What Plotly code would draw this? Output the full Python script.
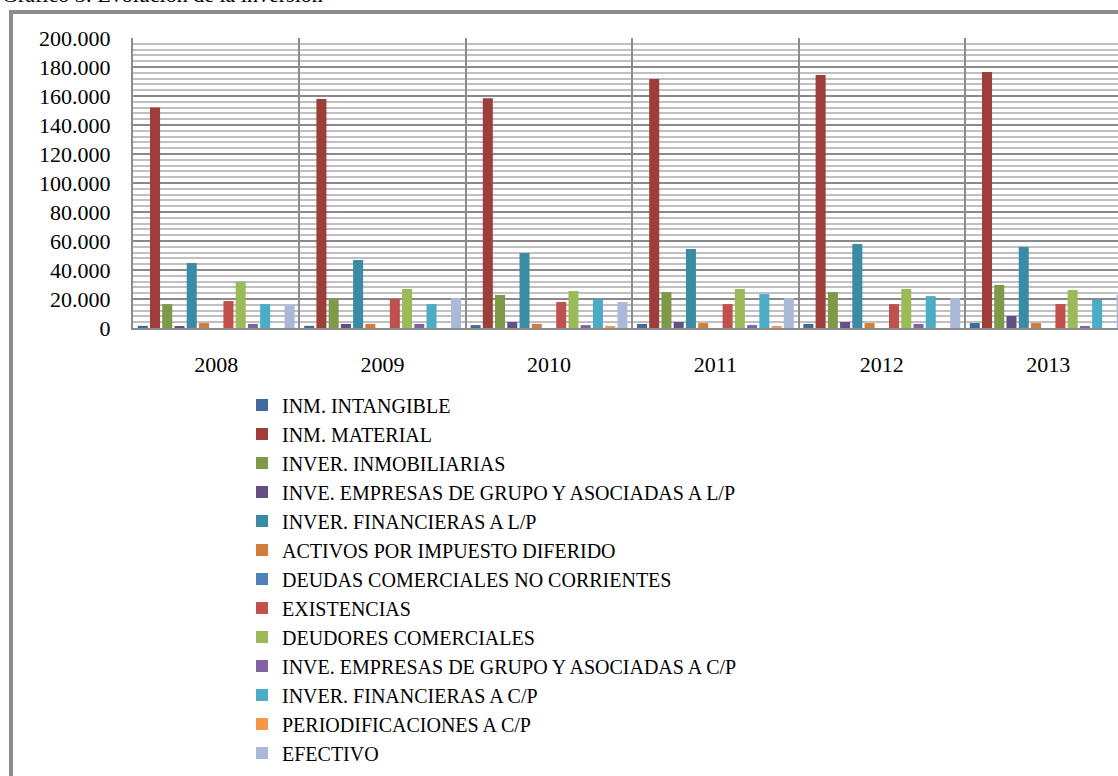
"""Gráfico 3: Evolución de la inversión — grouped bars, Excel style."""
import plotly.graph_objects as go

# ── data ─────────────────────────────────────────────────────────────────────
YEARS = ["2008", "2009", "2010", "2011", "2012", "2013"]

INM_INTANGIBLE = [1500, 1500, 2000, 2800, 2800, 3400]
INM_MATERIAL = [152000, 158000, 158500, 171700, 174500, 176600]
INVER_INMOBILIARIAS = [16500, 19800, 22800, 24800, 24800, 29700]
INVE_GRUPO_LP = [1400, 2800, 4100, 4100, 4100, 8300]
INVER_FIN_LP = [44800, 46900, 51700, 54500, 57900, 55900]
ACTIVOS_IMP_DIF = [3400, 2800, 2800, 3400, 3400, 3400]
DEUDAS_COM_NC = [0, 0, 0, 0, 0, 0]
EXISTENCIAS = [18600, 20000, 17900, 16500, 16500, 16500]
DEUDORES_COM = [32000, 26900, 25500, 26900, 26900, 26200]
INVE_GRUPO_CP = [2800, 2800, 2000, 2000, 2800, 1400]
INVER_FIN_CP = [16500, 16500, 19800, 23400, 22000, 19300]
PERIODIFICACIONES = [0, 0, 700, 700, 0, 0]
EFECTIVO = [15600, 20700, 17900, 20700, 20700, 23000]

SERIES = [
    ("INM. INTANGIBLE", INM_INTANGIBLE, "#3E6A9C"),
    ("INM. MATERIAL", INM_MATERIAL, "#9E3E3B"),
    ("INVER. INMOBILIARIAS", INVER_INMOBILIARIAS, "#7E9A48"),
    ("INVE. EMPRESAS DE GRUPO Y ASOCIADAS A L/P", INVE_GRUPO_LP, "#654E86"),
    ("INVER. FINANCIERAS A L/P", INVER_FIN_LP, "#3A8BA4"),
    ("ACTIVOS POR IMPUESTO DIFERIDO", ACTIVOS_IMP_DIF, "#D27D39"),
    ("DEUDAS COMERCIALES NO CORRIENTES", DEUDAS_COM_NC, "#4F81BD"),
    ("EXISTENCIAS", EXISTENCIAS, "#C0504D"),
    ("DEUDORES COMERCIALES", DEUDORES_COM, "#9BBB59"),
    ("INVE. EMPRESAS DE GRUPO Y ASOCIADAS A C/P", INVE_GRUPO_CP, "#8064A2"),
    ("INVER. FINANCIERAS A C/P", INVER_FIN_CP, "#4BACC6"),
    ("PERIODIFICACIONES A C/P", PERIODIFICACIONES, "#F79646"),
    ("EFECTIVO", EFECTIVO, "#AAB9D7"),
]

# ── geometry (pixels) ────────────────────────────────────────────────────────
W, H = 1118, 776
L, T, B = 133, 38, 328          # plot area left / top / bottom
PW, PH = W - L, B - T
CAT_W = 166.4

FONT = "Liberation Serif, Times New Roman, serif"


def px_x(x):
    return (x - L) / PW


def px_y(y):
    return (B - y) / PH


fig = go.Figure()
for name, vals, color in SERIES:
    fig.add_trace(go.Bar(
        x=YEARS, y=vals, name=name,
        marker=dict(color=color, line=dict(width=0)),
    ))

fig.update_layout(
    width=W, height=H, autosize=False,
    margin=dict(l=L, r=0, t=T, b=H - B, pad=0),
    paper_bgcolor="white", plot_bgcolor="white",
    font=dict(family=FONT, size=22, color="#000000"),
    separators=",.",
    barmode="group", bargap=0.044, bargroupgap=0.18,
    showlegend=True,
    legend=dict(
        orientation="v", x=px_x(242), xanchor="left",
        y=px_y(385.5), yanchor="top", maxheight=600,
        font=dict(family=FONT, size=20, color="#000000"),
        bgcolor="rgba(0,0,0,0)", traceorder="normal",
    ),
)

fig.update_xaxes(
    type="category", range=[-0.5, -0.5 + PW / CAT_W],
    tickson="boundaries", showgrid=True, gridcolor="#8C8C8C", gridwidth=2,
    showline=True, linecolor="#8C8C8C", linewidth=2,
    ticks="", ticklabelstandoff=16,
    tickfont=dict(family=FONT, size=22, color="#000000"),
    zeroline=False, fixedrange=True,
)
fig.update_yaxes(
    range=[0, 200000], dtick=20000, tickformat=",d",
    showgrid=True, gridcolor="#8A8A8A", gridwidth=2,
    minor=dict(dtick=4000, showgrid=True, gridcolor="#C0C0C0", gridwidth=2),
    showline=True, linecolor="#8C8C8C", linewidth=2,
    ticks="", ticklabelstandoff=16,
    tickfont=dict(family=FONT, size=22, color="#000000"),
    zeroline=False, fixedrange=True,
)

# outer chart frame (runs past the right and bottom edges of the picture)
fig.add_shape(
    type="rect", xref="paper", yref="paper",
    x0=px_x(11), x1=px_x(1140), y0=px_y(800), y1=px_y(12),
    line=dict(color="#8C8C8C", width=4), fillcolor="rgba(0,0,0,0)",
    layer="above",
)

# caption, mostly cut off by the top of the picture
fig.add_annotation(
    text="Gráfico 3: Evolución de la inversión",
    xref="paper", yref="paper", x=px_x(0), y=px_y(9),
    xanchor="left", yanchor="bottom", showarrow=False,
    font=dict(family=FONT, size=22, color="#000000"),
)

# drop the default page margin so the figure sits at the window's corner
fig.write_html(
    "out.html",
    config={"displayModeBar": False},
    post_script="document.body.style.margin='0';document.body.style.overflow='hidden';",
)
